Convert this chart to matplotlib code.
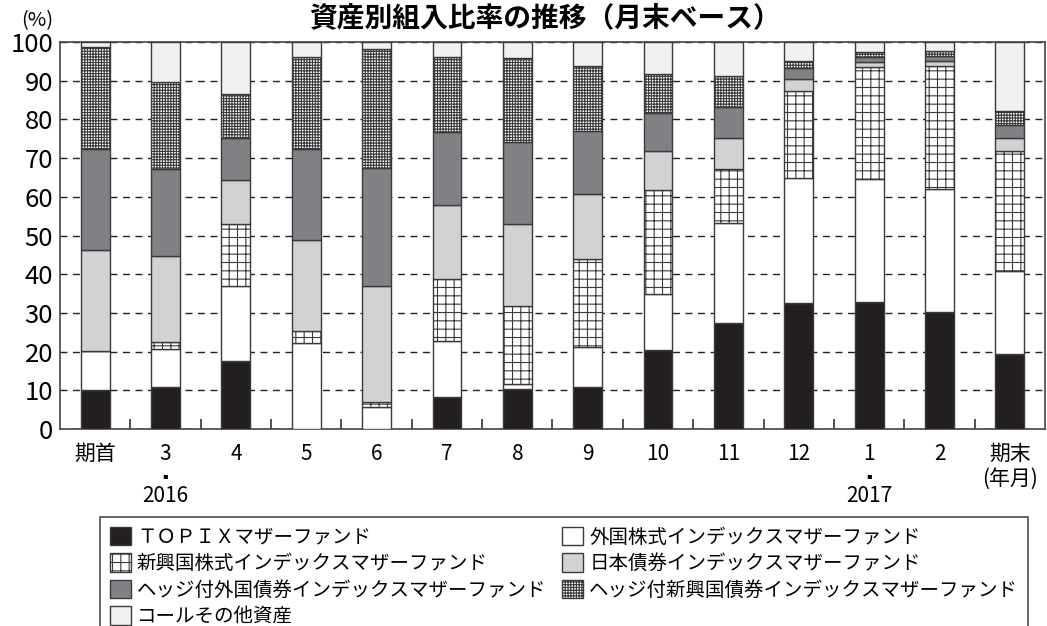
import numpy as np
import matplotlib
matplotlib.use("Agg")
import matplotlib.pyplot as plt

plt.rcParams['font.family'] = ['Noto Sans CJK JP', 'DejaVu Sans']
plt.rcParams['hatch.linewidth'] = 0.8

# -------------------------------
# data (%, month-end, bottom -> top)
# -------------------------------
categories = ["期首", "3", "4", "5", "6", "7", "8", "9", "10", "11", "12", "1", "2", "期末"]

topix = [10.1, 10.9, 17.6, 0, 0, 8.2, 10.3, 10.9, 20.4, 27.5, 32.5, 32.9, 30.2, 19.3]
foreign_eq = [10.1, 9.9, 19.4, 22.1, 5.8, 14.6, 1.3, 10.2, 14.4, 25.7, 32.4, 31.7, 31.9, 21.5]
em_eq = [0, 1.8, 16.1, 3.3, 1.2, 16.0, 20.2, 22.8, 27.0, 14.0, 22.5, 29.0, 31.8, 31.0]
jp_bond = [26.1, 22.2, 11.2, 23.4, 30.0, 19.1, 21.2, 16.7, 10.0, 8.1, 3.0, 1.2, 1.2, 3.3]
hedged_foreign_bond = [26.0, 22.3, 11.0, 23.6, 30.4, 18.9, 21.2, 16.4, 9.8, 7.8, 2.8, 1.4, 1.3, 3.5]
hedged_em_bond = [26.5, 22.6, 11.2, 23.8, 30.7, 19.4, 21.6, 16.8, 10.1, 8.2, 1.9, 1.3, 1.3, 3.6]
call_other = [1.2, 10.3, 13.5, 3.8, 1.9, 3.8, 4.2, 6.2, 8.3, 8.7, 4.9, 2.5, 2.3, 17.8]

series_names = [
    "ＴＯＰＩＸマザーファンド",
    "外国株式インデックスマザーファンド",
    "新興国株式インデックスマザーファンド",
    "日本債券インデックスマザーファンド",
    "ヘッジ付外国債券インデックスマザーファンド",
    "ヘッジ付新興国債券インデックスマザーファンド",
    "コールその他資産",
]
series_values = [topix, foreign_eq, em_eq, jp_bond, hedged_foreign_bond, hedged_em_bond, call_other]
fills = ["#231f20", "white", "white", "#d1d2d4", "#808184", "white", "#f1f1f2"]
hatches = [None, None, "++", None, None, "++++++", None]

year_marks = {"3": "2016", "1": "2017"}

# -------------------------------
# stacked bar chart
# -------------------------------
fig = plt.figure(figsize=(10.47, 6.26), dpi=100)
ax = fig.add_axes([60 / 1047, 1 - 429 / 626, 985 / 1047, 387 / 626])

x = np.arange(len(categories))
bottom = np.zeros(len(categories))
bars = []
for name, vals, fc, ht in zip(series_names, series_values, fills, hatches):
    vals = np.array(vals, dtype=float)
    b = ax.bar(x, vals, width=0.41, bottom=bottom, color=fc, edgecolor="#3a3a3a",
               linewidth=1.0, hatch=ht, label=name, zorder=3)
    bars.append(b)
    bottom += vals

ax.set_xlim(-0.5, len(categories) - 0.5)
ax.set_ylim(0, 100)
ax.set_yticks(np.arange(0, 101, 10))
ax.set_yticklabels([str(v) for v in range(0, 101, 10)], fontsize=18.5)
ax.tick_params(axis="y", length=0, pad=5)

ax.set_xticks(x)
ax.set_xticklabels(categories, fontsize=15)
ax.tick_params(axis="x", which="major", length=0, pad=10)
ax.set_xticks(x[:-1] + 0.5, minor=True)
ax.tick_params(axis="x", which="minor", direction="in", length=7, width=1.2, color="#333333")

ax.yaxis.grid(True, linestyle=(0, (5, 4)), color="#222222", linewidth=1.0, zorder=0)
ax.set_axisbelow(True)
for s in ax.spines.values():
    s.set_color("#444444")
    s.set_linewidth(1.2)

# year markers under month labels
tr = ax.get_xaxis_transform()
for i, c in enumerate(categories):
    if c in year_marks:
        ax.text(i, -0.119, "▪", transform=tr, ha="center", va="center",
                fontsize=6, family="DejaVu Sans")
        ax.text(i, -0.173, year_marks[c], transform=tr, ha="center", va="center", fontsize=15)
ax.text(len(categories) - 1, -0.128, "(年月)", transform=tr, ha="center", va="center", fontsize=15)

fig.text(37 / 1047, 1 - 21 / 626, "(%)", ha="center", va="center", fontsize=14.5)
fig.text(0.52, 0.971, "資産別組入比率の推移（月末ベース）", ha="center", va="center",
         fontsize=20, fontweight="bold")

# legend: column-wise order
order = [0, 2, 4, 6, 1, 3, 5]
leg = fig.legend([bars[i] for i in order], [series_names[i] for i in order],
                 loc="upper left", bbox_to_anchor=(100 / 1047, 1 - 517 / 626),
                 ncol=2, fontsize=14, frameon=True, fancybox=False,
                 edgecolor="#222222", borderaxespad=0, borderpad=0.5,
                 handlelength=1.1, handleheight=1.1, handletextpad=0.3,
                 labelspacing=0.28, columnspacing=0.8)
leg.get_frame().set_linewidth(1.2)

plt.savefig("out.png", dpi=100)
plt.close()
